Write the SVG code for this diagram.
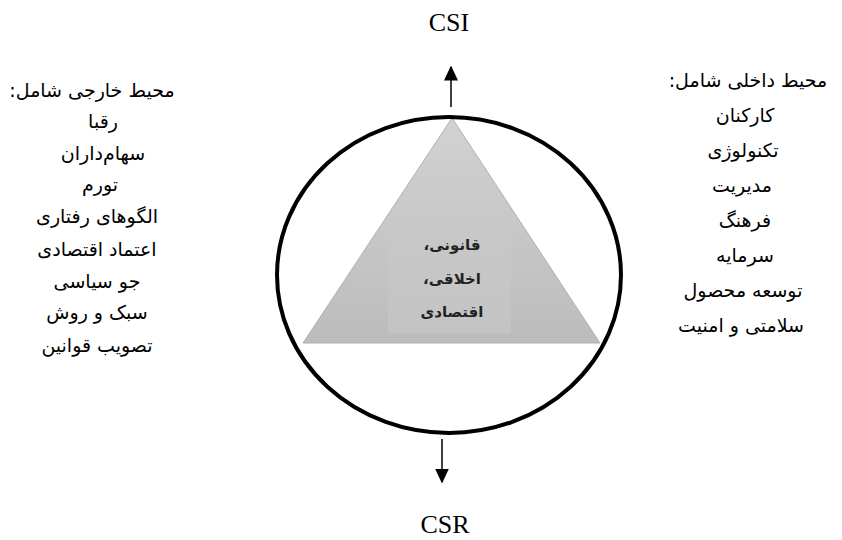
<svg xmlns="http://www.w3.org/2000/svg" width="842" height="540" viewBox="0 0 842 540">
<style>
.fa{font-family:"DejaVu Sans",sans-serif;font-size:19px;fill:#000;text-anchor:middle;direction:rtl}
.lat{font-family:"Liberation Serif",serif;font-size:26px;fill:#000;text-anchor:middle}
.mid{font-family:"DejaVu Sans",sans-serif;font-size:15px;font-weight:bold;fill:#222;text-anchor:middle;direction:rtl}
.conn{stroke:#000;stroke-width:1.5;fill:none}
</style>
<defs>
<linearGradient id="tg" x1="0" y1="0" x2="0" y2="1">
<stop offset="0" stop-color="#d2d2d2"/>
<stop offset="1" stop-color="#bcbcbc"/>
</linearGradient>
<marker id="ahb" viewBox="0 0 10 10" refX="9" refY="5" markerWidth="15" markerHeight="14" markerUnits="userSpaceOnUse" orient="auto" preserveAspectRatio="none">
<path d="M0,0 L10,5 L0,10 z" fill="#000"/>
</marker>
</defs>
<g id="pyramid">
<polygon points="452,118 303,343 600,343" fill="url(#tg)" stroke="#b0b0b0" stroke-width="1"/>
<rect x="388" y="220" width="123" height="113" fill="#c8c8c8" opacity="0.6"/>
<text class="mid" x="452" y="250">قانونی،</text>
<text class="mid" x="452" y="284">اخلاقی،</text>
<text class="mid" x="452" y="317">اقتصادی</text>
</g>
<g id="circle">
<ellipse cx="449" cy="275" rx="172" ry="158" fill="none" stroke="#000" stroke-width="4"/>
</g>
<g id="connectors">
<line class="conn" x1="451" y1="107" x2="451" y2="67" marker-end="url(#ahb)"/>
<line class="conn" x1="442" y1="439" x2="442" y2="482" marker-end="url(#ahb)"/>
</g>
<g id="csi"><text class="lat" x="449" y="31">CSI</text></g>
<g id="csr"><text class="lat" x="445" y="533">CSR</text></g>
<g id="external">
<text class="fa" x="92" y="97">محیط خارجی شامل:</text>
<text class="fa" x="103" y="128">رقبا</text>
<text class="fa" x="103" y="160">سهام‌داران</text>
<text class="fa" x="100" y="191">تورم</text>
<text class="fa" x="97" y="223">الگوهای رفتاری</text>
<text class="fa" x="97" y="256">اعتماد اقتصادی</text>
<text class="fa" x="97" y="288">جو سیاسی</text>
<text class="fa" x="97" y="319">سبک و روش</text>
<text class="fa" x="97" y="352">تصویب قوانین</text>
</g>
<g id="internal">
<text class="fa" x="748" y="87">محیط داخلی شامل:</text>
<text class="fa" x="745" y="122">کارکنان</text>
<text class="fa" x="743" y="157">تکنولوژی</text>
<text class="fa" x="742" y="192">مدیریت</text>
<text class="fa" x="745" y="227">فرهنگ</text>
<text class="fa" x="745" y="262">سرمایه</text>
<text class="fa" x="743" y="297">توسعه محصول</text>
<text class="fa" x="741" y="332">سلامتی و امنیت</text>
</g>
</svg>
